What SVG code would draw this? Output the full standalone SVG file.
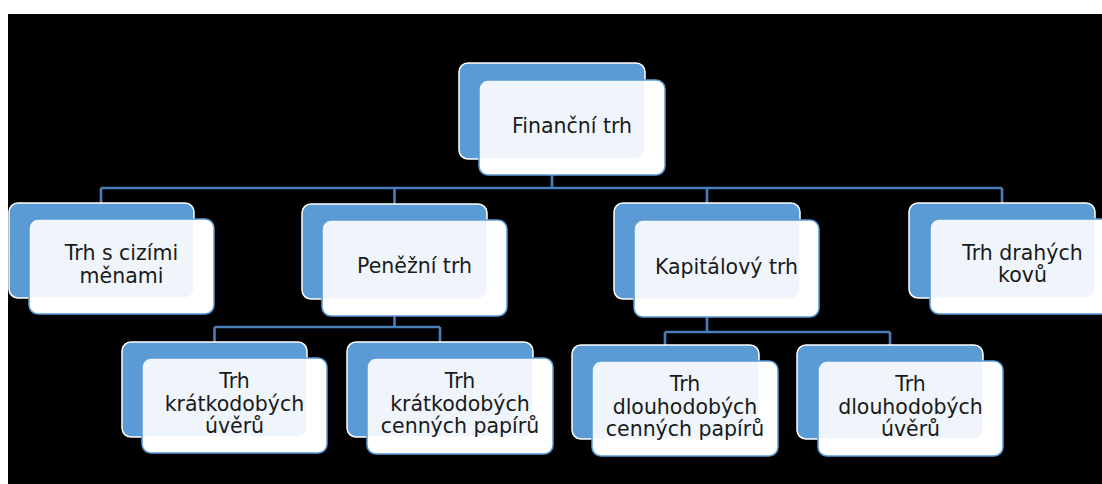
<svg xmlns="http://www.w3.org/2000/svg" width="1102" height="484" viewBox="0 0 1102 484">
<style>
.bg{fill:#000}
.base{fill:#FAFBFD}
.back{fill:#5B9BD5;stroke:#FFFFFF;stroke-width:1.5}
.front{fill:#FFFFFF;fill-opacity:0.9;stroke:#5B9BD5;stroke-width:1.5}
.lbl{font-family:"DejaVu Sans",sans-serif;font-size:20.5px;fill:#1A1A1A;text-anchor:middle}
.con{fill:none;stroke:#4A7EBB;stroke-width:2.6}
</style>
<rect width="1102" height="484" fill="#FFFFFF"/>
<rect class="bg" x="8" y="14" width="1094" height="470"/>
<g id="connectors">
<path class="con" d="M552 159V188M101 188H1002M101 188V203M394.5 188V204M707 188V203M1002 188V203"/>
<path class="con" d="M394.5 299V327M214.5 327H440M214.5 327V342M440 327V342"/>
<path class="con" d="M707 298V332M665 332H890M665 332V345M890 332V345"/>
</g>
<g id="financni-trh">
<rect class="base" x="479" y="80" width="186" height="95" rx="9"/>
<rect class="back" x="459" y="63" width="186" height="96" rx="9"/>
<rect class="front" x="479" y="80" width="186" height="95" rx="9"/>
<text class="lbl" x="572" y="133">Finanční trh</text>
</g>
<g id="trh-cizi-meny">
<rect class="base" x="29" y="219" width="185" height="95" rx="9"/>
<rect class="back" x="9" y="203" width="185" height="95" rx="9"/>
<rect class="front" x="29" y="219" width="185" height="95" rx="9"/>
<text class="lbl" x="121.5" y="260">Trh s cizími</text>
<text class="lbl" x="121.5" y="283">měnami</text>
</g>
<g id="penezni-trh">
<rect class="base" x="322" y="220" width="185" height="96" rx="9"/>
<rect class="back" x="302" y="204" width="185" height="95" rx="9"/>
<rect class="front" x="322" y="220" width="185" height="96" rx="9"/>
<text class="lbl" x="414.5" y="273">Peněžní trh</text>
</g>
<g id="kapitalovy-trh">
<rect class="base" x="634" y="220" width="185" height="97" rx="9"/>
<rect class="back" x="614" y="203" width="186" height="96" rx="9"/>
<rect class="front" x="634" y="220" width="185" height="97" rx="9"/>
<text class="lbl" x="726.5" y="274">Kapitálový trh</text>
</g>
<g id="trh-drahych-kovu">
<rect class="base" x="930" y="219" width="186" height="95" rx="9"/>
<rect class="back" x="909" y="203" width="186" height="95" rx="9"/>
<rect class="front" x="930" y="219" width="186" height="95" rx="9"/>
<text class="lbl" x="1022.5" y="260">Trh drahých</text>
<text class="lbl" x="1022.5" y="282">kovů</text>
</g>
<g id="kratkodobe-uvery">
<rect class="base" x="142" y="358" width="185" height="95" rx="9"/>
<rect class="back" x="122" y="342" width="185" height="95" rx="9"/>
<rect class="front" x="142" y="358" width="185" height="95" rx="9"/>
<text class="lbl" x="234.5" y="388">Trh</text>
<text class="lbl" x="234.5" y="411">krátkodobých</text>
<text class="lbl" x="234.5" y="433">úvěrů</text>
</g>
<g id="kratkodobe-cenne-papiry">
<rect class="base" x="367" y="358" width="186" height="96" rx="9"/>
<rect class="back" x="347" y="342" width="186" height="95" rx="9"/>
<rect class="front" x="367" y="358" width="186" height="96" rx="9"/>
<text class="lbl" x="460" y="388">Trh</text>
<text class="lbl" x="460" y="411">krátkodobých</text>
<text class="lbl" x="460" y="433">cenných papírů</text>
</g>
<g id="dlouhodobe-cenne-papiry">
<rect class="base" x="592" y="361" width="186" height="95" rx="9"/>
<rect class="back" x="572" y="345" width="187" height="94" rx="9"/>
<rect class="front" x="592" y="361" width="186" height="95" rx="9"/>
<text class="lbl" x="685" y="391">Trh</text>
<text class="lbl" x="685" y="414">dlouhodobých</text>
<text class="lbl" x="685" y="436">cenných papírů</text>
</g>
<g id="dlouhodobe-uvery">
<rect class="base" x="818" y="361" width="185" height="95" rx="9"/>
<rect class="back" x="797" y="345" width="186" height="94" rx="9"/>
<rect class="front" x="818" y="361" width="185" height="95" rx="9"/>
<text class="lbl" x="910.5" y="391">Trh</text>
<text class="lbl" x="910.5" y="414">dlouhodobých</text>
<text class="lbl" x="910.5" y="436">úvěrů</text>
</g>
</svg>
